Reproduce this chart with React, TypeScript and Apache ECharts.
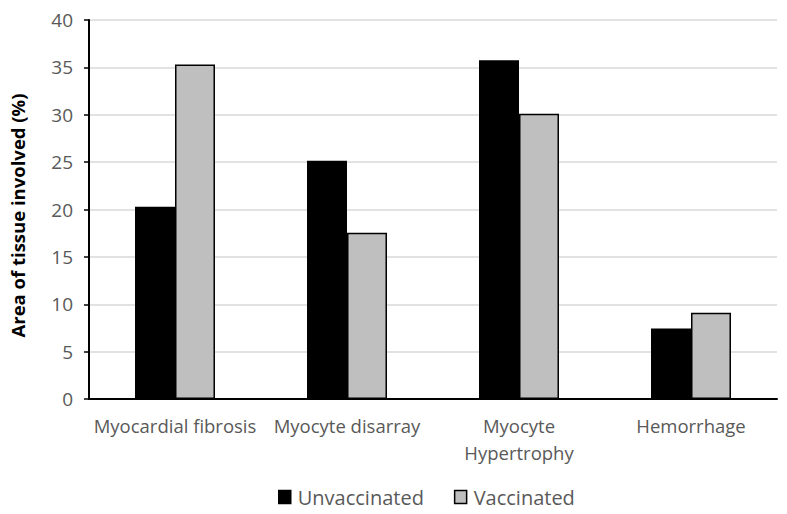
import React, { useEffect, useRef } from "react";
import * as echarts from "echarts";

const categories = ["Myocardial fibrosis", "Myocyte disarray", "Myocyte\nHypertrophy", "Hemorrhage"];
const unvaccinated = [20.3, 25.15, 35.75, 7.45];
const vaccinated = [35.3, 17.55, 30.1, 9.1];
const seriesNames = ["Unvaccinated", "Vaccinated"];
const yTicks = { min: 0, max: 40, interval: 5 };

export default function App() {
  const ref = useRef<HTMLDivElement>(null);
  useEffect(() => {
    const chart = echarts.init(ref.current!, null, { renderer: "svg" });
    const font = "'Open Sans', 'Liberation Sans', sans-serif";
    chart.setOption({
      animation: false,
      backgroundColor: "#ffffff",
      grid: { left: 87, right: 10, top: 20, bottom: 115, containLabel: false },
      legend: {
        bottom: 2,
        left: 273,
        icon: "rect",
        itemWidth: 12,
        itemHeight: 13,
        itemGap: 30,
        textStyle: { fontFamily: font, fontSize: 20, color: "#595959", padding: [0, 0, 0, 2] },
        itemStyle: { borderColor: "#000", borderWidth: 1.5 },
        data: seriesNames,
      },
      xAxis: {
        type: "category",
        data: categories,
        axisLine: { lineStyle: { color: "#000", width: 2 } },
        axisTick: { show: false },
        axisLabel: {
          fontFamily: font,
          fontSize: 18.5,
          color: "#595959",
          margin: 13,
          interval: 0,
          lineHeight: 27,
        },
      },
      yAxis: {
        type: "value",
        min: yTicks.min,
        max: yTicks.max,
        interval: yTicks.interval,
        name: "Area of tissue involved (%)",
        nameLocation: "middle",
        nameGap: 62,
        nameTextStyle: {
          fontFamily: font,
          fontSize: 18.5,
          fontWeight: "bold",
          color: "#000",
          padding: [0, 12, 0, 0],
        },
        axisLine: { show: true, lineStyle: { color: "#000", width: 2 } },
        axisTick: { show: true, length: 5, lineStyle: { color: "#000", width: 1.5 } },
        axisLabel: { fontFamily: font, fontSize: 19, color: "#595959", margin: 16 },
        splitLine: { show: true, lineStyle: { color: "#d9d9d9", width: 1.5 } },
      },
      series: [
        {
          name: seriesNames[0],
          type: "bar",
          data: unvaccinated,
          barWidth: 40,
          barGap: "0%",
          itemStyle: { color: "#000000", borderColor: "#000", borderWidth: 1.5 },
        },
        {
          name: seriesNames[1],
          type: "bar",
          data: vaccinated,
          barWidth: 40,
          barGap: "0%",
          itemStyle: { color: "#bfbfbf", borderColor: "#000", borderWidth: 1.5 },
        },
      ],
    });
    return () => chart.dispose();
  }, []);
  return <div ref={ref} style={{ width: 787, height: 514, position: "absolute", left: 0, top: 0 }} />;
}
